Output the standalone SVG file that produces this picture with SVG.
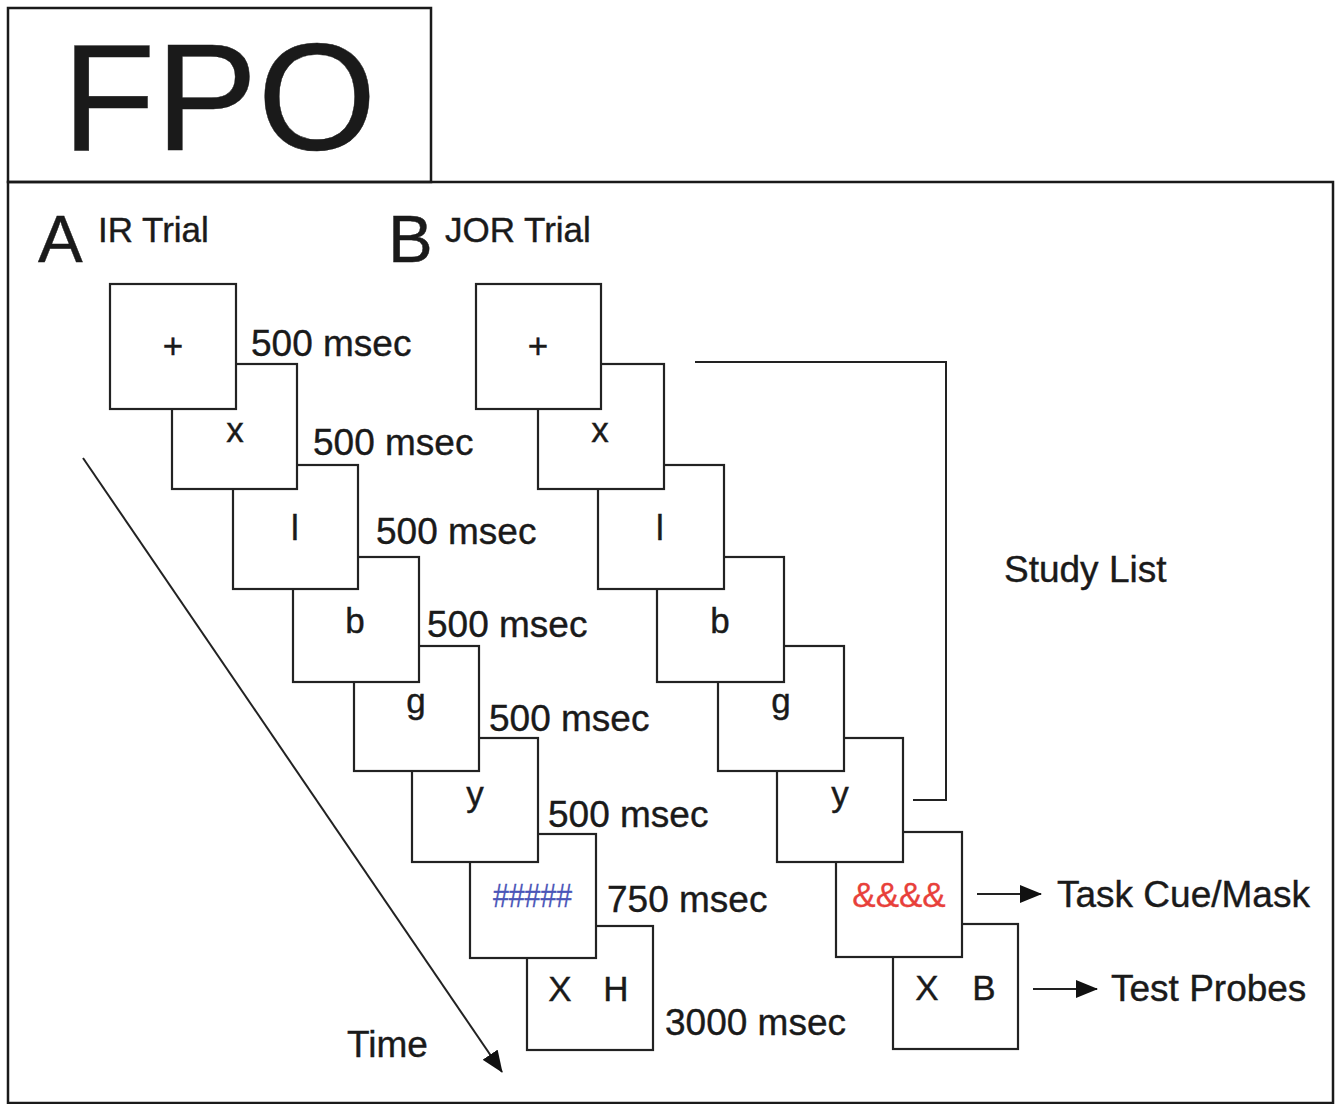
<svg xmlns="http://www.w3.org/2000/svg" width="1341" height="1104" viewBox="0 0 1341 1104">
<style>
.frame{fill:none;stroke:#1a1a1a;stroke-width:2.5}
.box{fill:#fff;stroke:#222;stroke-width:2.2}
.t{font-family:"Liberation Sans",Arial,sans-serif;fill:#1a1a1a;stroke:#1a1a1a;stroke-width:0.4}
.lbl{font-size:37px}
.sym{font-size:35px;text-anchor:middle}
.line{fill:none;stroke:#222;stroke-width:2}
</style>
<defs>
<marker id="ahs" markerWidth="22" markerHeight="18" refX="21" refY="9" orient="auto" markerUnits="userSpaceOnUse" viewBox="0 0 22 18">
<path d="M0,0 L22,9 L0,18 Z" fill="#111"/>
</marker>
</defs>
<rect width="1341" height="1104" fill="#fff"/>
<g id="fpo">
<rect class="frame" x="8" y="8" width="423" height="174"/>
<text class="t" x="62" y="150" font-size="153">FPO</text>
</g>
<rect class="frame" x="8" y="182" width="1325" height="921"/>
<g id="panel-a-title">
<text class="t" x="38" y="262" font-size="67">A</text>
<text class="t" x="98" y="242" font-size="35">IR Trial</text>
</g>
<g id="panel-b-title">
<text class="t" x="388" y="262" font-size="67">B</text>
<text class="t" x="445" y="242" font-size="35">JOR Trial</text>
</g>
<!-- Panel A boxes (drawn last-first so earlier boxes lie on top) -->
<g id="a8"><rect class="box" x="527" y="926" width="126" height="124"/>
<text class="t sym" x="560" y="1001">X</text><text class="t sym" x="616" y="1001">H</text></g>
<g id="a7"><rect class="box" x="470" y="834" width="126" height="124"/>
<text class="t" x="493" y="907" font-size="34" style="fill:#4a55b8;stroke:#4a55b8;stroke-width:0.3" textLength="79" lengthAdjust="spacingAndGlyphs">#####</text></g>
<g id="a6"><rect class="box" x="412" y="738" width="126" height="124"/>
<text class="t sym" x="475" y="806">y</text></g>
<g id="a5"><rect class="box" x="354" y="646" width="125" height="125"/>
<text class="t sym" x="416" y="713">g</text></g>
<g id="a4"><rect class="box" x="293" y="557" width="126" height="125"/>
<text class="t sym" x="355" y="633">b</text></g>
<g id="a3"><rect class="box" x="233" y="465" width="125" height="124"/>
<text class="t sym" x="295" y="540">l</text></g>
<g id="a2"><rect class="box" x="172" y="364" width="125" height="125"/>
<text class="t sym" x="235" y="442">x</text></g>
<g id="a1"><rect class="box" x="110" y="284" width="126" height="125"/>
<text class="t sym" x="173" y="358">+</text></g>
<g id="a-labels">
<text class="t lbl" x="251" y="356">500 msec</text>
<text class="t lbl" x="313" y="455">500 msec</text>
<text class="t lbl" x="376" y="544">500 msec</text>
<text class="t lbl" x="427" y="637">500 msec</text>
<text class="t lbl" x="489" y="731">500 msec</text>
<text class="t lbl" x="548" y="827">500 msec</text>
<text class="t lbl" x="607" y="912">750 msec</text>
<text class="t lbl" x="665" y="1035">3000 msec</text>
<text class="t lbl" x="347" y="1057">Time</text>
</g>
<!-- Panel B boxes -->
<g id="b8"><rect class="box" x="893" y="924" width="125" height="125"/>
<text class="t sym" x="927" y="1000">X</text><text class="t sym" x="984" y="1000">B</text></g>
<g id="b7"><rect class="box" x="836" y="832" width="126" height="125"/>
<text class="t sym" x="899" y="907" style="fill:#e8403a;stroke:#e8403a;stroke-width:0.3">&amp;&amp;&amp;&amp;</text></g>
<g id="b6"><rect class="box" x="777" y="738" width="126" height="124"/>
<text class="t sym" x="840" y="806">y</text></g>
<g id="b5"><rect class="box" x="718" y="646" width="126" height="125"/>
<text class="t sym" x="781" y="713">g</text></g>
<g id="b4"><rect class="box" x="657" y="557" width="127" height="125"/>
<text class="t sym" x="720" y="633">b</text></g>
<g id="b3"><rect class="box" x="598" y="465" width="126" height="124"/>
<text class="t sym" x="660" y="540">l</text></g>
<g id="b2"><rect class="box" x="538" y="364" width="126" height="125"/>
<text class="t sym" x="600" y="442">x</text></g>
<g id="b1"><rect class="box" x="476" y="284" width="125" height="125"/>
<text class="t sym" x="538" y="358">+</text></g>
<g id="b-labels">
<text class="t lbl" x="1004" y="582">Study List</text>
<text class="t lbl" x="1057" y="907">Task Cue/Mask</text>
<text class="t lbl" x="1111" y="1001">Test Probes</text>
</g>
<g id="connectors">
<line class="line" x1="83" y1="458" x2="502" y2="1072" marker-end="url(#ahs)"/>
<polyline class="line" points="695,362 946,362 946,800 913,800"/>
<line class="line" x1="977" y1="894" x2="1041" y2="894" marker-end="url(#ahs)"/>
<line class="line" x1="1033" y1="989" x2="1097" y2="989" marker-end="url(#ahs)"/>
</g>
</svg>
